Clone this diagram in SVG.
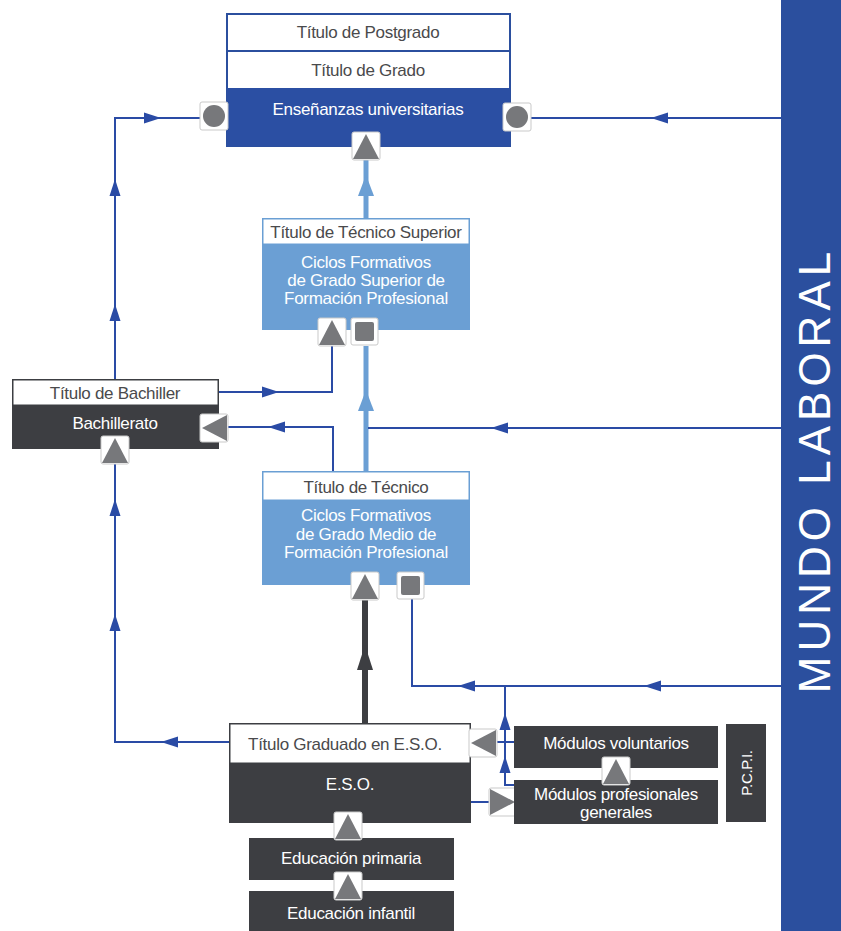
<svg xmlns="http://www.w3.org/2000/svg" xmlns:xlink="http://www.w3.org/1999/xlink" width="841" height="931" viewBox="0 0 841 931">
<style>
.t{font-family:"Liberation Sans",Arial,sans-serif;font-size:17px;letter-spacing:-0.3px;text-anchor:middle;}
.dk{fill:#4a4a4c;}
.wt{fill:#ffffff;}
.ln{fill:none;stroke:#2a4ba5;stroke-width:2;}
.lb{fill:none;stroke:#6b9fd4;stroke-width:5;}
.dl{fill:none;stroke:#3d3e42;stroke-width:6;}
.ico{fill:#ffffff;stroke:#c9c9c9;stroke-width:1;}
.g{fill:#77787b;}
</style>
<defs>
<path id="ab" d="M9,0 L-8,-5.5 L-8,5.5 Z" fill="#2a4ba5"/>
<path id="al" d="M11,0 L-10,-8 L-10,8 Z" fill="#6b9fd4"/>
<path id="ad" d="M13,0 L-12,-8 L-12,8 Z" fill="#3d3e42"/>
<g id="iUp"><rect class="ico" x="0" y="0" width="28" height="28" rx="2"/><polygon class="g" points="14,2 27,27 1,27"/></g>
<g id="iLeft"><rect class="ico" x="0" y="0" width="28" height="28" rx="2"/><polygon class="g" points="2,14 27,1 27,27"/></g>
<g id="iRight"><rect class="ico" x="0" y="0" width="28" height="28" rx="2"/><polygon class="g" points="26,14 1,1 1,27"/></g>
<g id="iSq"><rect class="ico" x="0" y="0" width="27" height="27" rx="2"/><rect class="g" x="4" y="4" width="19" height="19" rx="2"/></g>
<g id="iCirc"><rect class="ico" x="0" y="0" width="28" height="28" rx="2"/><circle class="g" cx="14" cy="14" r="11"/></g>
</defs>

<rect x="0" y="0" width="841" height="931" fill="#ffffff"/>

<g id="mundo-laboral">
<rect x="781" y="0" width="60" height="931" fill="#2b4f9e"/>
<text transform="translate(830,470) rotate(-90)" style="font-family:'Liberation Sans',Arial,sans-serif;font-size:44px;letter-spacing:5px;text-anchor:middle;fill:#ffffff;">MUNDO LABORAL</text>
</g>

<g id="connectors">
<path class="lb" d="M366,471 V346"/>
<path class="lb" d="M366,218 V160"/>
<path class="dl" d="M365,723 V600"/>
<path class="ln" d="M115,379 V118 H200"/>
<path class="ln" d="M781,118 H531"/>
<path class="ln" d="M781,428 H368"/>
<path class="ln" d="M333,471 V427 H228"/>
<path class="ln" d="M218,392 H332 V346"/>
<path class="ln" d="M781,686 H412 V598"/>
<path class="ln" d="M505,686 V785 H515"/>
<path class="ln" d="M515,742 H497"/>
<path class="ln" d="M229,742 H115 V462"/>
<path class="ln" d="M471,802 H489"/>
<use href="#ab" transform="translate(115,188) rotate(-90)"/>
<use href="#ab" transform="translate(115,313) rotate(-90)"/>
<use href="#ab" transform="translate(152,118)"/>
<use href="#ab" transform="translate(660,118) rotate(180)"/>
<use href="#ab" transform="translate(500,428) rotate(180)"/>
<use href="#ab" transform="translate(277,427) rotate(180)"/>
<use href="#ab" transform="translate(270,392)"/>
<use href="#ab" transform="translate(653,686) rotate(180)"/>
<use href="#ab" transform="translate(467,686) rotate(180)"/>
<use href="#ab" transform="translate(505,722) rotate(-90)"/>
<use href="#ab" transform="translate(505,765) rotate(-90)"/>
<use href="#ab" transform="translate(170,742) rotate(180)"/>
<use href="#ab" transform="translate(115,508) rotate(-90)"/>
<use href="#ab" transform="translate(115,623) rotate(-90)"/>
<use href="#al" transform="translate(366,401) rotate(-90)"/>
<use href="#al" transform="translate(366,186) rotate(-90)"/>
<use href="#ad" transform="translate(365,658) rotate(-90)"/>
</g>

<g id="universidad">
<rect x="227" y="14" width="283" height="132" fill="#ffffff" stroke="#2b4f9e" stroke-width="2"/>
<rect x="227" y="88" width="283" height="58" fill="#2b4fa3"/>
<line x1="227" y1="51" x2="510" y2="51" stroke="#2b4f9e" stroke-width="2"/>
<text class="t dk" x="368" y="38">Título de Postgrado</text>
<text class="t dk" x="368" y="76">Título de Grado</text>
<text class="t wt" x="368" y="115">Enseñanzas universitarias</text>
<use href="#iCirc" x="200" y="102"/>
<use href="#iCirc" x="503" y="103"/>
<use href="#iUp" x="352" y="132"/>
</g>

<g id="tecnico-superior">
<rect x="262" y="218" width="208" height="112" fill="#6b9fd4"/>
<rect x="263" y="219" width="206" height="25" fill="#ffffff" stroke="#6b9fd4" stroke-width="1"/>
<text class="t dk" x="366" y="238">Título de Técnico Superior</text>
<text class="t wt" x="366" y="268">Ciclos Formativos</text>
<text class="t wt" x="366" y="286">de Grado Superior de</text>
<text class="t wt" x="366" y="304">Formación Profesional</text>
<use href="#iUp" x="318" y="318"/>
<use href="#iSq" x="351" y="318"/>
</g>

<g id="bachillerato">
<rect x="12" y="379" width="207" height="70" fill="#3d3e42"/>
<rect x="13" y="380" width="205" height="25" fill="#ffffff" stroke="#3d3e42" stroke-width="1"/>
<text class="t dk" x="115" y="399">Título de Bachiller</text>
<text class="t wt" x="115" y="429">Bachillerato</text>
<use href="#iLeft" x="200" y="414"/>
<use href="#iUp" x="101" y="436"/>
</g>

<g id="tecnico">
<rect x="262" y="471" width="208" height="114" fill="#6b9fd4"/>
<rect x="263" y="472" width="206" height="28" fill="#ffffff" stroke="#6b9fd4" stroke-width="1"/>
<text class="t dk" x="366" y="493">Título de Técnico</text>
<text class="t wt" x="366" y="521">Ciclos Formativos</text>
<text class="t wt" x="366" y="540">de Grado Medio de</text>
<text class="t wt" x="366" y="558">Formación Profesional</text>
<use href="#iUp" x="351" y="572"/>
<use href="#iSq" x="397" y="572"/>
</g>

<g id="eso">
<rect x="229" y="723" width="242" height="100" fill="#3d3e42"/>
<rect x="230" y="724" width="240" height="39" fill="#ffffff" stroke="#3d3e42" stroke-width="1"/>
<text class="t dk" x="345" y="750">Título Graduado en E.S.O.</text>
<text class="t wt" x="350" y="790">E.S.O.</text>
<use href="#iLeft" x="469" y="729"/>
<use href="#iRight" x="489" y="788"/>
</g>

<g id="modulos-voluntarios">
<rect x="514" y="726" width="204" height="42" fill="#3d3e42"/>
<text class="t wt" x="616" y="749">Módulos voluntarios</text>
</g>

<g id="modulos-profesionales">
<rect x="514" y="780" width="204" height="44" fill="#3d3e42"/>
<text class="t wt" x="616" y="800">Módulos profesionales</text>
<text class="t wt" x="616" y="818">generales</text>
<use href="#iUp" x="602" y="757"/>
</g>

<g id="pcpi">
<rect x="726" y="724" width="40" height="98" fill="#3d3e42"/>
<text class="t wt" transform="translate(752,773) rotate(-90)" style="font-size:15px">P.C.P.I.</text>
</g>

<g id="primaria">
<rect x="249" y="838" width="205" height="42" fill="#3d3e42"/>
<text class="t wt" x="351" y="864">Educación primaria</text>
<use href="#iUp" x="334" y="812"/>
</g>

<g id="infantil">
<rect x="249" y="891" width="205" height="40" fill="#3d3e42"/>
<text class="t wt" x="351" y="919">Educación infantil</text>
<use href="#iUp" x="334" y="872"/>
</g>
</svg>
